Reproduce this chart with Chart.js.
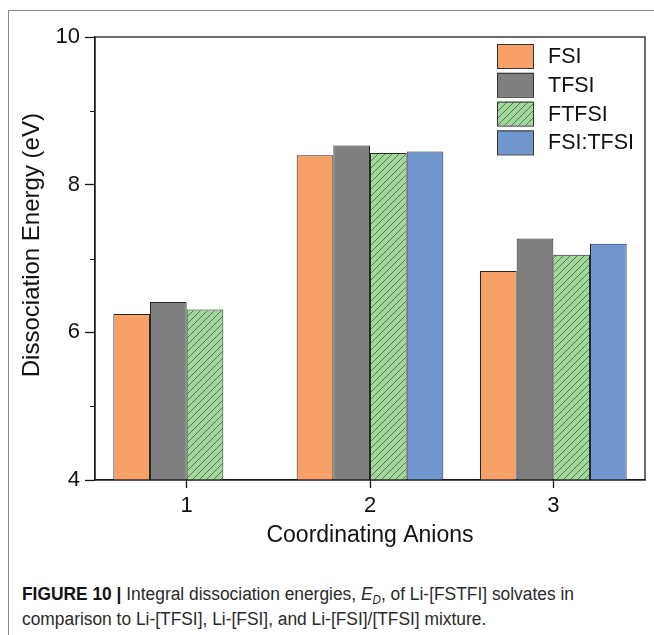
<!DOCTYPE html>
<html>
<head>
<meta charset="utf-8">
<script src="https://cdn.jsdelivr.net/npm/chart.js@4.4.1/dist/chart.umd.min.js"></script>
<style>
  html, body { margin: 0; padding: 0; background: #fff; }
  body { width: 654px; height: 635px; position: relative; overflow: hidden; }
  #frame { position: absolute; left: 8px; top: 10px; width: 700px; height: 700px;
           border-left: 1px solid #8a8a8a; border-top: 1px solid #8a8a8a; }
  #wrap { position: absolute; left: 0; top: 0; width: 654px; height: 560px; }
  #caption { position: absolute; left: 22px; top: 582px; width: 680px;
             font-family: "Liberation Sans", Arial, sans-serif;
             font-size: 18px; line-height: 25px; color: #2a2a2a;
             transform: scaleX(0.965); transform-origin: 0 0; white-space: nowrap; }
  #caption b { font-weight: bold; color: #111; }
  #caption sub { font-size: 12px; line-height: 0; vertical-align: -4px; }
</style>
</head>
<body>
<div id="frame"></div>
<div id="wrap"><canvas id="c" width="654" height="560"></canvas></div>
<div id="caption"><b>FIGURE 10 |</b> Integral dissociation energies, <i>E</i><sub><i>D</i></sub>, of Li-[FSTFI] solvates in<br>comparison to Li-[TFSI], Li-[FSI], and Li-[FSI]/[TFSI] mixture.</div>
<script>
const categories = ["1", "2", "3"];
const seriesNames = ["FSI", "TFSI", "FTFSI", "FSI:TFSI"];
const fsiValues = [6.25, 8.40, 6.83];
const tfsiValues = [6.41, 8.53, 7.27];
const ftfsiValues = [6.31, 8.43, 7.05];
const mixValues = [null, 8.45, 7.20];
const yTickLabels = [4, 6, 8, 10];

function hatch() {
  const s = 7;
  const p = document.createElement('canvas');
  p.width = s; p.height = s;
  const g = p.getContext('2d');
  g.fillStyle = '#a2d89b';
  g.fillRect(0, 0, s, s);
  g.strokeStyle = '#4e6e4b';
  g.lineWidth = 0.9;
  g.beginPath();
  g.moveTo(-1, s + 1); g.lineTo(s + 1, -1);
  g.moveTo(-1, 1); g.lineTo(1, -1);
  g.moveTo(s - 1, s + 1); g.lineTo(s + 1, s - 1);
  g.stroke();
  return document.getElementById('c').getContext('2d').createPattern(p, 'repeat');
}

const FONT = "'Liberation Sans', Arial, sans-serif";
const TXT = '#111';

const frameAndMinor = {
  id: 'frameAndMinor',
  afterDatasetsDraw(chart) {
    const {ctx, chartArea: a} = chart;
    const y = chart.scales.y;
    ctx.save();
    ctx.strokeStyle = '#1a1a1a';
    ctx.lineWidth = 1.3;
    ctx.strokeRect(a.left, a.top, a.right - a.left, a.bottom - a.top);
    ctx.lineWidth = 1.2;
    ctx.beginPath();
    for (let v = y.min + 1; v < y.max; v += 2) {
      const py = Math.round(y.getPixelForValue(v)) + 0.5;
      ctx.moveTo(a.left - 5, py); ctx.lineTo(a.left, py);
    }
    ctx.stroke();
    // legend inside the plot area
    const ds = chart.data.datasets;
    const bx = a.right - 148, by = a.top + 7, bw = 36, bh = 24, step = 28.8;
    ctx.font = "21.5px " + FONT;
    ctx.textBaseline = 'middle';
    ctx.textAlign = 'left';
    ds.forEach((d, i) => {
      const yy = by + i * step;
      ctx.fillStyle = d.backgroundColor;
      ctx.fillRect(bx, yy, bw, bh);
      ctx.lineWidth = 1;
      ctx.strokeStyle = '#333';
      ctx.strokeRect(bx + 0.5, yy + 0.5, bw, bh);
      ctx.fillStyle = TXT;
      ctx.fillText(d.label, bx + 51, yy + bh / 2 + 1);
    });
    ctx.restore();
  }
};

const chart = new Chart(document.getElementById('c'), {
  type: 'bar',
  data: {
    labels: categories,
    datasets: [
      { label: seriesNames[0], data: fsiValues, backgroundColor: '#f7a068' },
      { label: seriesNames[1], data: tfsiValues, backgroundColor: '#7f7f7f' },
      { label: seriesNames[2], data: ftfsiValues, backgroundColor: hatch() },
      { label: seriesNames[3], data: mixValues, backgroundColor: '#6f96cf' }
    ].map(d => Object.assign(d, { borderColor: '#262626', borderWidth: 1,
                                   categoryPercentage: 0.8, barPercentage: 1.0 }))
  },
  options: {
    responsive: false,
    animation: false,
    events: [],
    layout: { padding: { top: 37, right: 9, left: 0, bottom: 0 } },
    plugins: { legend: { display: false }, tooltip: { enabled: false } },
    scales: {
      x: {
        grid: { display: true, drawOnChartArea: false, offset: false, tickLength: 8,
                tickColor: '#1a1a1a', tickWidth: 1.3 },
        border: { color: '#1a1a1a', width: 1.3 },
        ticks: { color: TXT, font: { family: FONT, size: 22 }, padding: 5, maxRotation: 0 },
        title: { display: true, text: 'Coordinating Anions', color: TXT,
                 font: { family: FONT, size: 23 }, padding: { top: 0, bottom: 11 } },
        afterFit: s => { s.height = 80; }
      },
      y: {
        min: 4, max: 10,
        grid: { display: true, drawOnChartArea: false, tickLength: 10, tickWidth: 1.3,
                tickColor: ctx => (yTickLabels.includes(ctx.tick.value) ? '#1a1a1a' : 'rgba(0,0,0,0)') },
        border: { color: '#1a1a1a', width: 1.3 },
        ticks: { stepSize: 1, color: TXT, font: { family: FONT, size: 22 }, padding: 5,
                 callback: v => (yTickLabels.includes(v) ? String(v) : '') },
        title: { display: true, text: '    Dissociation Energy (eV)', color: TXT,
                 font: { family: FONT, size: 24 }, padding: { top: 18, bottom: 0 } },
        afterFit: s => { s.width = 95; }
      }
    }
  },
  plugins: [frameAndMinor]
});
</script>
</body>
</html>
